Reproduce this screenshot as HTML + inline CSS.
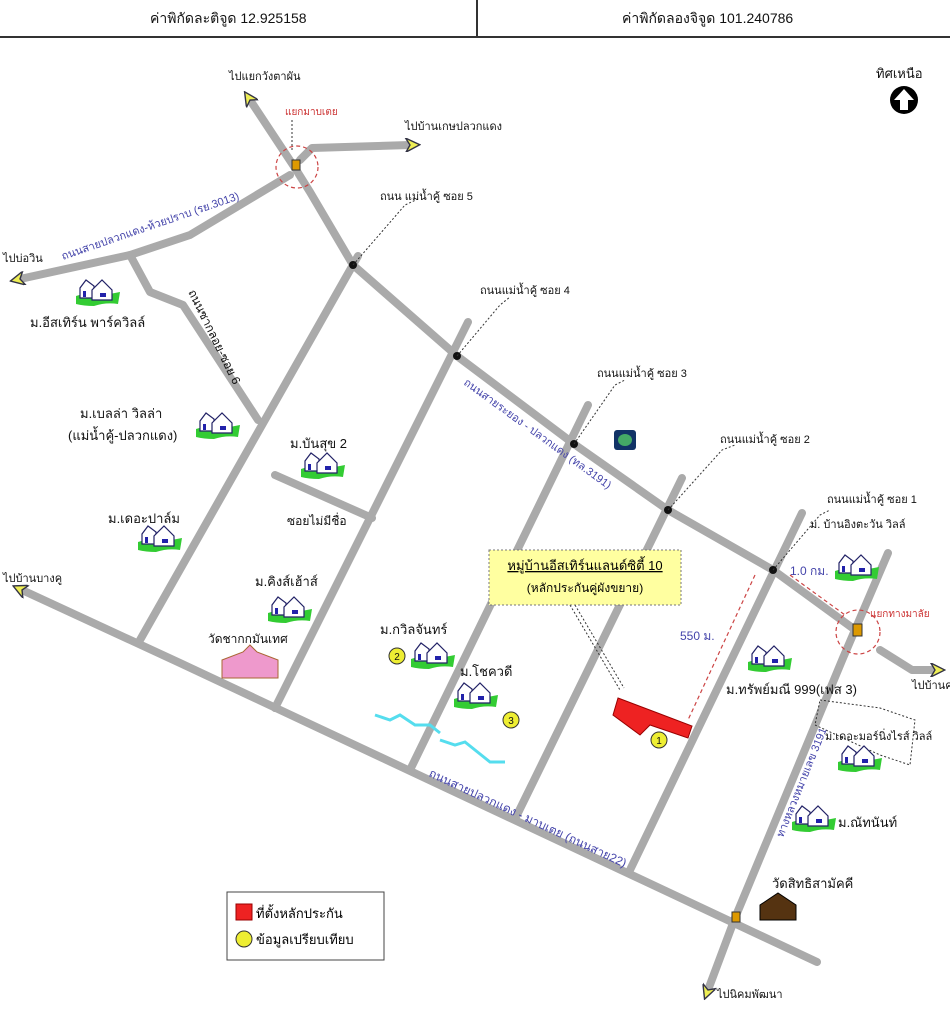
<!DOCTYPE html>
<html><head><meta charset="utf-8"><style>
html,body{margin:0;padding:0;background:#fff;}
body{width:950px;height:1017px;overflow:hidden;position:relative;font-family:"Liberation Sans","Noto Sans CJK SC",sans-serif;}
.hdr{position:absolute;top:0;left:0;width:950px;height:36px;border-bottom:2px solid #333;}
.hdr div{position:absolute;top:8px;font-size:14px;color:#111;}
svg text{font-family:"Liberation Sans","Noto Sans CJK SC",sans-serif;}
</style></head><body>
<div class="hdr">
<div style="left:150px">ค่าพิกัดละติจูด 12.925158</div>
<div style="left:622px">ค่าพิกัดลองจิจูด 101.240786</div>
<div style="left:476px;top:0;width:2px;height:36px;background:#333"></div>
</div>
<svg width="950" height="1017" style="position:absolute;left:0;top:0">
<defs>
<g id="h">
<path d="M-22,4 Q-10,0 0,4 Q12,2 22,0 L20,12 Q8,10 -4,14 Q-14,14 -22,12Z" fill="#3c3"/>
<path d="M-18,6 L-18,-4 L-12,-12 L-4,-6 L-4,6Z" fill="#fff" stroke="#226" stroke-width="1.2"/>
<path d="M-6,8 L-6,-2 L4,-12 L14,-2 L14,8Z" fill="#fff" stroke="#226" stroke-width="1.2"/>
<rect x="-15" y="-1" width="3" height="6" fill="#22a"/><rect x="2" y="1" width="6" height="4" fill="#22a"/>
</g>
<marker id="ar" viewBox="0 0 10 10" refX="3" refY="5" markerWidth="16" markerHeight="14" markerUnits="userSpaceOnUse" orient="auto"><path d="M0,0 L10,5 L0,10 L3,5Z" fill="#ee5" stroke="#334" stroke-width="1"/></marker>
</defs>
<g fill="none" stroke="#aaa" stroke-width="8" stroke-linecap="round" stroke-linejoin="round">
<polyline points="295,168 310,192 353,265 457,356 574,444 668,510 773,570 858,632"/>
<polyline points="880,650 912,670 935,670" marker-end="url(#ar)"/>
<polyline points="295,168 250,100" marker-end="url(#ar)"/>
<polyline points="300,160 312,148 410,145" marker-end="url(#ar)"/>
<polyline points="290,175 190,235 130,255 20,279" marker-end="url(#ar)"/>
<polyline points="130,255 150,292 183,305 258,420"/>
<line x1="358" y1="256" x2="140" y2="640"/>
<line x1="468" y1="322" x2="275" y2="708"/>
<line x1="588" y1="405" x2="410" y2="770"/>
<line x1="682" y1="478" x2="517" y2="815"/>
<line x1="802" y1="513" x2="630" y2="870"/>
<polyline points="888,553 843,658 735,918 708,990" marker-end="url(#ar)"/>
<polyline points="817,962 180,663 22,590" marker-end="url(#ar)"/>
<line x1="275" y1="475" x2="372" y2="518"/>
</g>
<g fill="#111"><circle cx="353" cy="265" r="4"/><circle cx="457" cy="356" r="4"/><circle cx="574" cy="444" r="4"/><circle cx="668" cy="510" r="4"/><circle cx="773" cy="570" r="4"/></g>
<g stroke="#333" stroke-dasharray="2,2" fill="none" stroke-width="1">
<polyline points="353,265 405,205 420,198"/><polyline points="457,356 500,305 510,297"/>
<polyline points="574,444 615,385 625,380"/><polyline points="668,510 722,450 735,445"/>
<polyline points="773,570 820,515 830,510"/><line x1="292" y1="150" x2="292" y2="120"/>
<polyline points="570,605 620,690"/><polyline points="575,605 624,688"/>
<polygon points="820,700 880,708 915,720 910,765 880,755 815,725"/>
</g>
<g fill="none" stroke="#c44" stroke-dasharray="4,3" stroke-width="1.2">
<circle cx="297" cy="167" r="21"/><circle cx="858" cy="632" r="22"/>
<line x1="755" y1="575" x2="688" y2="720"/><line x1="790" y1="575" x2="845" y2="615"/>
</g>
<rect x="292" y="160" width="8" height="10" fill="#d90" stroke="#333"/>
<rect x="853" y="624" width="9" height="12" fill="#d90" stroke="#333"/>
<rect x="732" y="912" width="8" height="10" fill="#d90" stroke="#333"/>
<polygon points="618,698 655,712 692,726 688,738 650,725 640,735 613,715" fill="#e22" stroke="#900"/>
<rect x="614" y="430" width="22" height="20" rx="3" fill="#136" /><ellipse cx="625" cy="440" rx="7" ry="6" fill="#4a6"/>
<g stroke="#5de" stroke-width="3" fill="none"><path d="M375,715 l15,5 l10,-5 l15,10 l15,0 l10,8"/><path d="M440,740 l15,5 l10,-3 l15,12 l10,8 l15,0"/></g>
<g>
<use href="#h" x="98" y="292"/><use href="#h" x="218" y="425"/><use href="#h" x="160" y="538"/><use href="#h" x="323" y="465"/>
<use href="#h" x="290" y="609"/><use href="#h" x="433" y="655"/><use href="#h" x="476" y="695"/><use href="#h" x="770" y="658"/>
<use href="#h" x="857" y="567"/><use href="#h" x="860" y="758"/><use href="#h" x="814" y="818"/>
</g>
<g fill="#ee3" stroke="#333"><circle cx="397" cy="656" r="8"/><circle cx="511" cy="720" r="8"/><circle cx="659" cy="740" r="8"/></g>
<g font-size="10" text-anchor="middle" fill="#111"><text x="397" y="660">2</text><text x="511" y="724">3</text><text x="659" y="744">1</text></g>
<path d="M222,678 L222,660 L243,652 L250,645 L257,652 L278,660 L278,678Z" fill="#e9c" stroke="#a63"/>
<path d="M760,920 L760,905 L778,893 L796,905 L796,920Z" fill="#531" stroke="#000"/>
<rect x="489" y="550" width="192" height="55" fill="#ffffa0" stroke="#777" stroke-dasharray="2,2"/>
<text x="585" y="570" font-size="13" text-anchor="middle" fill="#000" text-decoration="underline">หมู่บ้านอีสเทิร์นแลนด์ซิตี้ 10</text>
<text x="585" y="592" font-size="12" text-anchor="middle" fill="#000">(หลักประกันคู่ผังขยาย)</text>
<g font-size="11" fill="#111">
<text x="229" y="80">ไปแยกวังตาผัน</text><text x="405" y="130">ไปบ้านเกษปลวกแดง</text>
<text x="3" y="262">ไปบ่อวิน</text><text x="3" y="582">ไปบ้านบางคู</text>
<text x="380" y="200">ถนน แม่น้ำคู้ ซอย 5</text><text x="480" y="294">ถนนแม่น้ำคู้ ซอย 4</text>
<text x="597" y="377">ถนนแม่น้ำคู้ ซอย 3</text><text x="720" y="443">ถนนแม่น้ำคู้ ซอย 2</text>
<text x="827" y="503">ถนนแม่น้ำคู้ ซอย 1</text><text x="810" y="528">ม. บ้านอิงตะวัน วิลล์</text>
<text x="912" y="689">ไปบ้านค่าย</text><text x="717" y="998">ไปนิคมพัฒนา</text>
</g>
<g font-size="13" fill="#111">
<text x="30" y="327">ม.อีสเทิร์น พาร์ควิลล์</text><text x="80" y="418">ม.เบลล่า วิลล่า</text><text x="68" y="440">(แม่น้ำคู้-ปลวกแดง)</text>
<text x="108" y="523">ม.เดอะปาล์ม</text><text x="290" y="448">ม.บันสุข 2</text><text x="255" y="586">ม.คิงส์เฮ้าส์</text>
<text x="208" y="643" font-size="12">วัดชากกมันเทศ</text><text x="380" y="634">ม.กวิลจันทร์</text><text x="460" y="676">ม.โชควดี</text>
<text x="726" y="694">ม.ทรัพย์มณี 999(เฟส 3)</text><text x="825" y="740" font-size="11">ม.เดอะมอร์นิ่งไรส์ วิลล์</text>
<text x="838" y="827">ม.ณัทนันท์</text><text x="772" y="888">วัดสิทธิสามัคคี</text>
<text x="287" y="525" font-size="12">ซอยไม่มีชื่อ</text>
<text x="876" y="78" font-size="13">ทิศเหนือ</text>
</g>
<g font-size="11" fill="#44a">
<text x="63" y="260" transform="rotate(-19 63 260)">ถนนสายปลวกแดง-ห้วยปราบ (รย.3013)</text>
<text x="188" y="292" fill="#111" font-size="12" transform="rotate(64 188 292)">ถนนซากลอย-ซอย 6</text>
<text x="463" y="384" transform="rotate(36 463 384)">ถนนสายระยอง - ปลวกแดง (ทล.3191)</text>
<text x="428" y="776" font-size="12" transform="rotate(25 428 776)">ถนนสายปลวกแดง - มาบเตย (ถนนสาย22)</text>
<text x="783" y="838" transform="rotate(-68 783 838)">ทางหลวงหมายเลข 3191</text>
<text x="680" y="640" font-size="12">550 ม.</text><text x="790" y="575" font-size="12">1.0 กม.</text>
</g>
<g font-size="10" fill="#c33"><text x="285" y="115">แยกมาบเตย</text><text x="870" y="617">แยกทางมาลัย</text></g>
<circle cx="904" cy="100" r="14" fill="#000"/><path d="M904,89 L914,100 L908,100 L908,110 L900,110 L900,100 L894,100Z" fill="#fff"/>
<rect x="227" y="892" width="157" height="68" fill="#fff" stroke="#444"/>
<rect x="236" y="904" width="16" height="16" fill="#e22" stroke="#900"/>
<circle cx="244" cy="939" r="8" fill="#ee3" stroke="#333"/>
<text x="256" y="918" font-size="13" fill="#000">ที่ตั้งหลักประกัน</text>
<text x="256" y="944" font-size="13" fill="#000">ข้อมูลเปรียบเทียบ</text>
</svg>
</body></html>
